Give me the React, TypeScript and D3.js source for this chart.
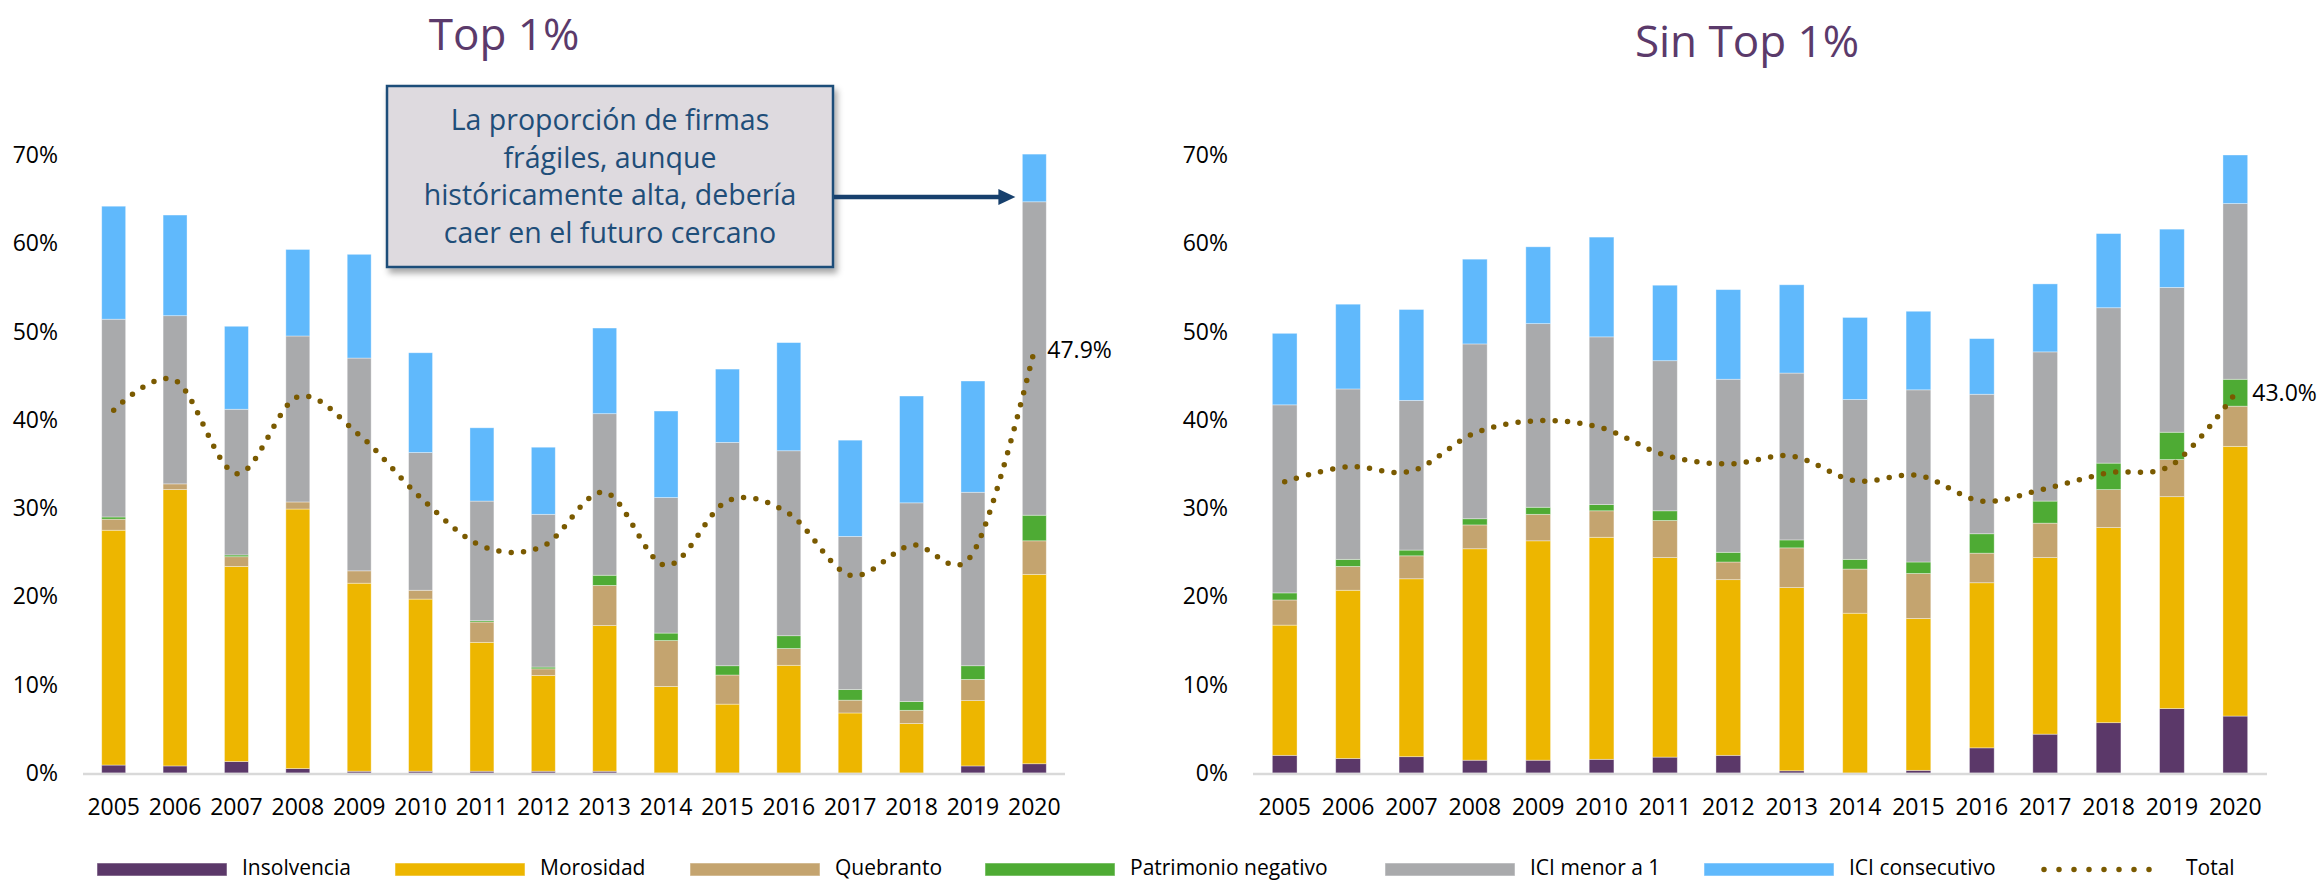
import React from 'react';
import * as d3 from 'd3';

const YEARS = ['2005', '2006', '2007', '2008', '2009', '2010', '2011', '2012', '2013', '2014', '2015', '2016', '2017', '2018', '2019', '2020'];
const SERIES = ['Insolvencia', 'Morosidad', 'Quebranto', 'Patrimonio negativo', 'ICI menor a 1', 'ICI consecutivo'];
const COLORS = ['#5B3869', '#EDB600', '#C4A46F', '#4EAB34', '#A9AAAC', '#60B9FC'];
const TOTAL_COLOR = '#7A5A00';
const Y_TICKS = [0, 10, 20, 30, 40, 50, 60, 70];

// Top 1%
const TOP_INSOLVENCIA = [0.9, 0.8, 1.3, 0.5, 0.2, 0.2, 0.2, 0.2, 0.2, 0, 0, 0, 0, 0, 0.8, 1.05];
const TOP_MOROSIDAD = [26.6, 31.3, 22.1, 29.4, 21.3, 19.5, 14.6, 10.85, 16.5, 9.8, 7.8, 12.2, 6.8, 5.6, 7.4, 21.45];
const TOP_QUEBRANTO = [1.25, 0.65, 1.1, 0.8, 1.4, 1.0, 2.3, 0.75, 4.55, 5.2, 3.3, 1.9, 1.45, 1.5, 2.4, 3.8];
const TOP_PATRIMONIO = [0.25, 0, 0.2, 0, 0, 0, 0.15, 0.2, 1.15, 0.85, 1.05, 1.45, 1.2, 1.0, 1.55, 2.9];
const TOP_ICI_MENOR = [22.4, 19.05, 16.5, 18.8, 24.1, 15.6, 13.55, 17.3, 18.3, 15.35, 25.3, 20.95, 17.35, 22.5, 19.65, 35.5];
const TOP_ICI_CONSEC = [12.8, 11.4, 9.4, 9.8, 11.75, 11.3, 8.3, 7.6, 9.7, 9.8, 8.3, 12.25, 10.9, 12.1, 12.6, 5.4];
const TOP_TOTAL = [41.1, 44.5, 33.9, 42.6, 38.3, 31.2, 25.7, 25.7, 31.8, 23.5, 30.8, 29.4, 22.4, 25.8, 24.9, 47.9];

// Sin Top 1%
const SIN_INSOLVENCIA = [2.0, 1.65, 1.85, 1.45, 1.45, 1.55, 1.8, 2.0, 0.25, 0, 0.3, 2.85, 4.4, 5.7, 7.3, 6.45];
const SIN_MOROSIDAD = [14.75, 19.05, 20.15, 23.95, 24.85, 25.15, 22.6, 19.9, 20.75, 18.1, 17.2, 18.7, 20.0, 22.1, 24.0, 30.55];
const SIN_QUEBRANTO = [2.85, 2.7, 2.6, 2.7, 3.0, 3.0, 4.2, 2.0, 4.5, 5.0, 5.1, 3.35, 3.9, 4.3, 4.2, 4.55];
const SIN_PATRIMONIO = [0.8, 0.8, 0.65, 0.7, 0.8, 0.7, 1.1, 1.1, 0.9, 1.1, 1.3, 2.2, 2.5, 3.0, 3.1, 3.05];
const SIN_ICI_MENOR = [21.3, 19.3, 16.95, 19.8, 20.8, 19.0, 17.0, 19.6, 18.9, 18.1, 19.5, 15.8, 16.9, 17.6, 16.4, 19.9];
const SIN_ICI_CONSEC = [8.1, 9.6, 10.3, 9.6, 8.7, 11.3, 8.55, 10.15, 10.0, 9.3, 8.9, 6.3, 7.7, 8.4, 6.6, 5.5];
const SIN_TOTAL = [33.0, 34.7, 34.2, 38.5, 39.9, 39.1, 36.0, 35.0, 35.9, 33.1, 33.7, 30.8, 32.2, 34.0, 34.9, 43.0];

const ANNOTATION_LINES = ['La proporción de firmas', 'frágiles, aunque', 'históricamente alta, debería', 'caer en el futuro cercano'];

const FONT = "'Open Sans', 'Noto Sans', sans-serif";
const Y0 = 773;
const Y70 = 155;

function Panel(props: any) {
  const { title, titleX, titleY, x0, x1, tickRight, series, total, labelDx } = props;
  const x = d3.scaleBand<string>().domain(YEARS).range([x0, x1]).paddingInner(0.61).paddingOuter(0.305);
  const y = d3.scaleLinear().domain([0, 70]).range([Y0, Y70]);
  const rows = YEARS.map((yr, i) => {
    const o: any = { year: yr };
    SERIES.forEach((s, j) => { o[s] = series[j][i]; });
    return o;
  });
  const stacked = d3.stack<any>().keys(SERIES)(rows);
  const cx = (i: number) => (x(YEARS[i]) as number) + x.bandwidth() / 2;
  const line = d3.line<number>().x((d, i) => cx(i)).y((d) => y(d)).curve(d3.curveCatmullRom.alpha(0));
  const last = total.length - 1;
  return (
    <g>
      <text x={titleX} y={titleY} textAnchor="middle" fontFamily={FONT} fontSize={44} fill="#5B3A6B">{title}</text>
      {Y_TICKS.map((t) => (
        <text key={t} x={tickRight} y={y(t)} dy="0.35em" textAnchor="end" fontFamily={FONT} fontSize={23} fill="#000">{t}%</text>
      ))}
      {stacked.map((layer, j) => (
        <g key={SERIES[j]} fill={COLORS[j]}>
          {layer.map((d, i) => {
            const h = y(d[0]) - y(d[1]);
            if (h <= 0) return null;
            return (
              <rect key={i} x={x(YEARS[i])} y={y(d[1])} width={x.bandwidth()} height={h}
                stroke="rgba(255,255,255,0.45)" strokeWidth={0.8} />
            );
          })}
        </g>
      ))}
      <line x1={x0} x2={x1} y1={Y0 + 1} y2={Y0 + 1} stroke="#D9D9D9" strokeWidth={2.5} />
      {YEARS.map((yr, i) => (
        <text key={yr} x={cx(i)} y={815} textAnchor="middle" fontFamily={FONT} fontSize={23} fill="#000">{yr}</text>
      ))}
      <path d={line(total) || ''} fill="none" stroke={TOTAL_COLOR} strokeWidth={5.5} strokeLinecap="round" strokeDasharray="0 12.4" />
      <text x={cx(last) + labelDx} y={y(total[last])} dy="0.35em" fontFamily={FONT} fontSize={23} fill="#000">
        {total[last].toFixed(1)}%
      </text>
    </g>
  );
}

const LEGEND_X = [97, 395, 690, 985, 1385, 1704, 2041];

function Legend() {
  return (
    <g>
      {SERIES.map((s, i) => (
        <g key={s}>
          <rect x={LEGEND_X[i]} y={863} width={130} height={13} fill={COLORS[i]} stroke="rgba(255,255,255,0.5)" strokeWidth={1} />
          <text x={LEGEND_X[i] + 145} y={875} fontFamily={FONT} fontSize={21} fill="#000">{s}</text>
        </g>
      ))}
      <line x1={LEGEND_X[6] + 3} x2={LEGEND_X[6] + 122} y1={869.5} y2={869.5} stroke={TOTAL_COLOR} strokeWidth={5.5}
        strokeLinecap="round" strokeDasharray="0 15" />
      <text x={LEGEND_X[6] + 145} y={875} fontFamily={FONT} fontSize={21} fill="#000">Total</text>
    </g>
  );
}

export default function App() {
  const leftSeries = [TOP_INSOLVENCIA, TOP_MOROSIDAD, TOP_QUEBRANTO, TOP_PATRIMONIO, TOP_ICI_MENOR, TOP_ICI_CONSEC];
  const rightSeries = [SIN_INSOLVENCIA, SIN_MOROSIDAD, SIN_QUEBRANTO, SIN_PATRIMONIO, SIN_ICI_MENOR, SIN_ICI_CONSEC];
  const xLeft = d3.scaleBand<string>().domain(YEARS).range([83, 1065]).paddingInner(0.61).paddingOuter(0.305);
  const arrowTip = (xLeft('2020') as number) - 7;
  return (
    <svg width={2323} height={882} style={{ position: 'absolute', left: 0, top: 0, background: '#fff' }}>
      <defs>
        <filter id="shadow" x="-10%" y="-10%" width="130%" height="140%">
          <feDropShadow dx={3} dy={5} stdDeviation={3} floodColor="#000" floodOpacity={0.35} />
        </filter>
      </defs>
      <rect x={0} y={0} width={2323} height={882} fill="#fff" />
      <Panel title="Top 1%" titleX={504} titleY={50} x0={83} x1={1065} tickRight={58}
        series={leftSeries} total={TOP_TOTAL} labelDx={13} />
      <Panel title="Sin Top 1%" titleX={1747} titleY={57} x0={1253} x1={2267} tickRight={1228}
        series={rightSeries} total={SIN_TOTAL} labelDx={17} />
      <g>
        <rect x={387} y={86} width={446} height={181} fill="#DEDADF" stroke="#1F4E79" strokeWidth={2.5} filter="url(#shadow)" />
        {ANNOTATION_LINES.map((t, i) => (
          <text key={i} x={610} y={130 + i * 37.7} textAnchor="middle" fontFamily={FONT} fontSize={28.5} fill="#1F4E79">{t}</text>
        ))}
        <line x1={834} x2={arrowTip - 14} y1={197} y2={197} stroke="#17406D" strokeWidth={4.5} />
        <path d={`M${arrowTip},197 L${arrowTip - 17},189 L${arrowTip - 17},205 Z`} fill="#17406D" />
      </g>
      <Legend />
    </svg>
  );
}
